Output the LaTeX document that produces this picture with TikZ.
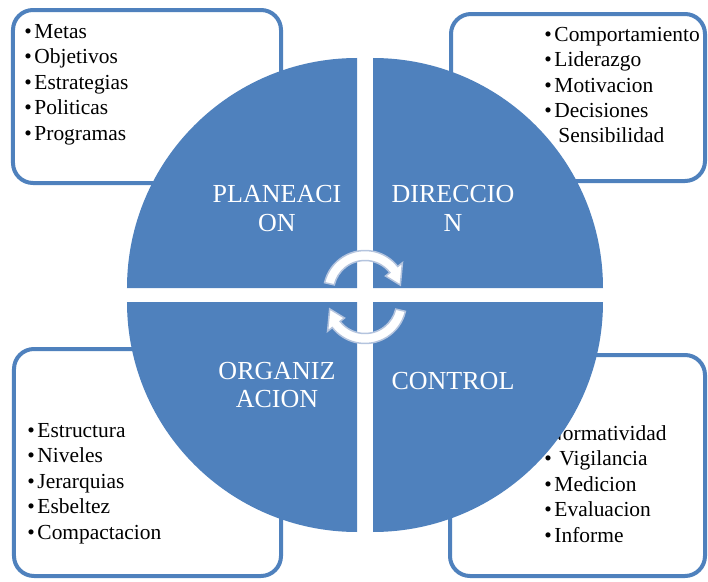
\documentclass[tikz,border=0pt]{standalone}
\usepackage{fontspec}
\setmainfont{Liberation Serif}
\usepackage{xcolor}
\definecolor{quadblue}{RGB}{79,129,189}
\definecolor{spinedge}{RGB}{180,196,222}
\newcommand{\itm}{\textbullet\hspace{1.5pt}}
\newcommand{\spinarrow}{(167:0.83) arc[start angle=167, end angle=38, radius=0.83] -- (38:0.95) -- (11:0.72) -- (38:0.52) -- (38:0.63) arc[start angle=38, end angle=167, radius=0.63] -- cycle}

\begin{document}
\begin{tikzpicture}[
    quad/.style={fill=quadblue},
    listbox/.style={draw=quadblue, line width=0.08cm, rounded corners=0.4cm, fill=white},
    items/.style={anchor=north west, inner sep=0, align=left, font=\fontsize{12.2}{14.5}\selectfont},
    title/.style={text=white, align=center, inner sep=0, font=\fontsize{14.8}{16.1}\selectfont},
    spin/.style={fill=white, draw=spinedge, line width=0.03cm}
]
        \useasboundingbox (0, 0) rectangle (14.16, 11.62);

        \draw[listbox] (0.26, 7.96) rectangle (5.62, 11.42);
        \draw[listbox] (9.02, 8.00) rectangle (14.10, 11.34);
        \draw[listbox] (0.28, 0.10) rectangle (5.62, 4.64);
        \draw[listbox] (9.00, 0.10) rectangle (14.10, 4.52);

        \node[items] (metas) at (0.48, 11.14) {\itm Metas\\ \itm Objetivos\\ \itm Estrategias\\ \itm Politicas\\ \itm Programas};
        \node[items] (comport) at (10.88, 11.09) {\itm Comportamiento\\ \itm Liderazgo\\ \itm Motivacion\\ \itm Decisiones\\ \hspace*{0.28cm}Sensibilidad};
        \node[items] (estruct) at (0.54, 3.16) {\itm Estructura\\ \itm Niveles\\ \itm Jerarquias\\ \itm Esbeltez\\ \itm Compactacion};
        \node[items] (normat) at (10.88, 3.12) {\hspace*{-0.14cm}\itm Normatividad\\ \itm\hspace*{0.1cm}Vigilancia\\ \itm Medicion\\ \itm Evaluacion\\ \itm Informe};

        %%%

        \fill[quad] (7.14, 5.86) -- ++(-4.6, 0) arc[start angle=180, end angle=90, radius=4.6] -- cycle;
        \fill[quad] (7.46, 5.86) -- ++(0, 4.6) arc[start angle=90, end angle=0, radius=4.6] -- cycle;
        \fill[quad] (7.14, 5.58) -- ++(-4.6, 0) arc[start angle=180, end angle=270, radius=4.6] -- cycle;
        \fill[quad] (7.46, 5.58) -- ++(4.6, 0) arc[start angle=0, end angle=-90, radius=4.6] -- cycle;

        \node[title] (planeacion) at (5.54, 7.45) {PLANEACI\\ON};
        \node[title] (direccion) at (9.06, 7.45) {DIRECCIO\\N};
        \node[title] (organizacion) at (5.54, 3.92) {ORGANIZ\\ACION};
        \node[title] (control) at (9.06, 4.00) {CONTROL};

        %%%

        \begin{scope}[shift={(7.30, 5.78)}]
            \filldraw[spin] \spinarrow;
        \end{scope}
        \begin{scope}[shift={(7.30, 5.58)}, rotate=180]
            \filldraw[spin] \spinarrow;
        \end{scope}
    \end{tikzpicture}
\end{document}
